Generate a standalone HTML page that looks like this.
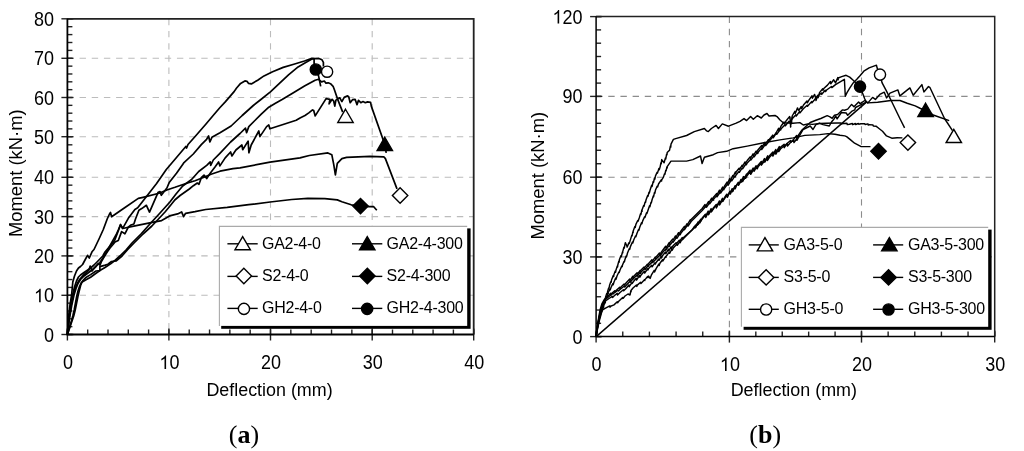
<!DOCTYPE html>
<html><head><meta charset="utf-8"><style>
html,body{margin:0;padding:0;background:#fff;}
svg{filter:grayscale(1);}
svg{display:block;}
.grid{stroke:#b4b4b4;stroke-width:1.1;stroke-dasharray:6.4 5.77;fill:none;}
.tick{stroke:#222;stroke-width:1.4;}
.frame{stroke:#222;fill:none;}
.axis{stroke:#000;fill:none;}
.tl{font-family:"Liberation Sans", sans-serif;font-size:18px;fill:#000;}
.at{font-family:"Liberation Sans", sans-serif;font-size:17.9px;fill:#000;}
.yt{font-family:"Liberation Sans", sans-serif;font-size:18.4px;fill:#000;}
.cap{font-family:"Liberation Serif", serif;font-size:26px;fill:#000;}
.lt{font-family:"Liberation Sans", sans-serif;font-size:16px;letter-spacing:-0.25px;fill:#000;}
.lg{stroke:#000;stroke-width:1.4;}
.mk{stroke:#000;stroke-width:1.4;}
.cl{stroke:#000;stroke-width:1.7;fill:none;stroke-linejoin:round;}
.cr{stroke:#000;stroke-width:1.45;fill:none;stroke-linejoin:round;}
</style></head><body>
<svg width="1024" height="451" viewBox="0 0 1024 451">
<rect width="1024" height="451" fill="#fff"/>
<line x1="168.9" y1="18.8" x2="168.9" y2="334.5" class="grid" style="stroke:#bcbcbc"/>
<line x1="270.5" y1="18.8" x2="270.5" y2="334.5" class="grid" style="stroke:#bcbcbc"/>
<line x1="372.2" y1="18.8" x2="372.2" y2="334.5" class="grid" style="stroke:#bcbcbc"/>
<line x1="67.4" y1="295.3" x2="473.7" y2="295.3" class="grid" style="stroke:#bcbcbc"/>
<line x1="67.4" y1="255.9" x2="473.7" y2="255.9" class="grid" style="stroke:#bcbcbc"/>
<line x1="67.4" y1="216.6" x2="473.7" y2="216.6" class="grid" style="stroke:#bcbcbc"/>
<line x1="67.4" y1="177.3" x2="473.7" y2="177.3" class="grid" style="stroke:#bcbcbc"/>
<line x1="67.4" y1="136.7" x2="473.7" y2="136.7" class="grid" style="stroke:#bcbcbc"/>
<line x1="67.4" y1="97.5" x2="473.7" y2="97.5" class="grid" style="stroke:#bcbcbc"/>
<line x1="67.4" y1="58.3" x2="473.7" y2="58.3" class="grid" style="stroke:#bcbcbc"/>
<line x1="67.4" y1="334.5" x2="67.4" y2="329.5" class="tick"/>
<line x1="87.7" y1="334.5" x2="87.7" y2="329.5" class="tick"/>
<line x1="108" y1="334.5" x2="108" y2="329.5" class="tick"/>
<line x1="128.3" y1="334.5" x2="128.3" y2="329.5" class="tick"/>
<line x1="148.6" y1="334.5" x2="148.6" y2="329.5" class="tick"/>
<line x1="168.9" y1="334.5" x2="168.9" y2="329.5" class="tick"/>
<line x1="189.22" y1="334.5" x2="189.22" y2="329.5" class="tick"/>
<line x1="209.54" y1="334.5" x2="209.54" y2="329.5" class="tick"/>
<line x1="229.86" y1="334.5" x2="229.86" y2="329.5" class="tick"/>
<line x1="250.18" y1="334.5" x2="250.18" y2="329.5" class="tick"/>
<line x1="270.5" y1="334.5" x2="270.5" y2="329.5" class="tick"/>
<line x1="290.84" y1="334.5" x2="290.84" y2="329.5" class="tick"/>
<line x1="311.18" y1="334.5" x2="311.18" y2="329.5" class="tick"/>
<line x1="331.52" y1="334.5" x2="331.52" y2="329.5" class="tick"/>
<line x1="351.86" y1="334.5" x2="351.86" y2="329.5" class="tick"/>
<line x1="372.2" y1="334.5" x2="372.2" y2="329.5" class="tick"/>
<line x1="392.5" y1="334.5" x2="392.5" y2="329.5" class="tick"/>
<line x1="412.8" y1="334.5" x2="412.8" y2="329.5" class="tick"/>
<line x1="433.1" y1="334.5" x2="433.1" y2="329.5" class="tick"/>
<line x1="453.4" y1="334.5" x2="453.4" y2="329.5" class="tick"/>
<line x1="473.7" y1="334.5" x2="473.7" y2="329.5" class="tick"/>
<line x1="67.4" y1="334.5" x2="72.4" y2="334.5" class="tick"/>
<line x1="67.4" y1="326.66" x2="72.4" y2="326.66" class="tick"/>
<line x1="67.4" y1="318.82" x2="72.4" y2="318.82" class="tick"/>
<line x1="67.4" y1="310.98" x2="72.4" y2="310.98" class="tick"/>
<line x1="67.4" y1="303.14" x2="72.4" y2="303.14" class="tick"/>
<line x1="67.4" y1="295.3" x2="72.4" y2="295.3" class="tick"/>
<line x1="67.4" y1="287.42" x2="72.4" y2="287.42" class="tick"/>
<line x1="67.4" y1="279.54" x2="72.4" y2="279.54" class="tick"/>
<line x1="67.4" y1="271.66" x2="72.4" y2="271.66" class="tick"/>
<line x1="67.4" y1="263.78" x2="72.4" y2="263.78" class="tick"/>
<line x1="67.4" y1="255.9" x2="72.4" y2="255.9" class="tick"/>
<line x1="67.4" y1="248.04" x2="72.4" y2="248.04" class="tick"/>
<line x1="67.4" y1="240.18" x2="72.4" y2="240.18" class="tick"/>
<line x1="67.4" y1="232.32" x2="72.4" y2="232.32" class="tick"/>
<line x1="67.4" y1="224.46" x2="72.4" y2="224.46" class="tick"/>
<line x1="67.4" y1="216.6" x2="72.4" y2="216.6" class="tick"/>
<line x1="67.4" y1="208.74" x2="72.4" y2="208.74" class="tick"/>
<line x1="67.4" y1="200.88" x2="72.4" y2="200.88" class="tick"/>
<line x1="67.4" y1="193.02" x2="72.4" y2="193.02" class="tick"/>
<line x1="67.4" y1="185.16" x2="72.4" y2="185.16" class="tick"/>
<line x1="67.4" y1="177.3" x2="72.4" y2="177.3" class="tick"/>
<line x1="67.4" y1="169.18" x2="72.4" y2="169.18" class="tick"/>
<line x1="67.4" y1="161.06" x2="72.4" y2="161.06" class="tick"/>
<line x1="67.4" y1="152.94" x2="72.4" y2="152.94" class="tick"/>
<line x1="67.4" y1="144.82" x2="72.4" y2="144.82" class="tick"/>
<line x1="67.4" y1="136.7" x2="72.4" y2="136.7" class="tick"/>
<line x1="67.4" y1="128.86" x2="72.4" y2="128.86" class="tick"/>
<line x1="67.4" y1="121.02" x2="72.4" y2="121.02" class="tick"/>
<line x1="67.4" y1="113.18" x2="72.4" y2="113.18" class="tick"/>
<line x1="67.4" y1="105.34" x2="72.4" y2="105.34" class="tick"/>
<line x1="67.4" y1="97.5" x2="72.4" y2="97.5" class="tick"/>
<line x1="67.4" y1="89.66" x2="72.4" y2="89.66" class="tick"/>
<line x1="67.4" y1="81.82" x2="72.4" y2="81.82" class="tick"/>
<line x1="67.4" y1="73.98" x2="72.4" y2="73.98" class="tick"/>
<line x1="67.4" y1="66.14" x2="72.4" y2="66.14" class="tick"/>
<line x1="67.4" y1="58.3" x2="72.4" y2="58.3" class="tick"/>
<line x1="67.4" y1="50.4" x2="72.4" y2="50.4" class="tick"/>
<line x1="67.4" y1="42.5" x2="72.4" y2="42.5" class="tick"/>
<line x1="67.4" y1="34.6" x2="72.4" y2="34.6" class="tick"/>
<line x1="67.4" y1="26.7" x2="72.4" y2="26.7" class="tick"/>
<line x1="67.4" y1="18.8" x2="72.4" y2="18.8" class="tick"/>
<line x1="67.4" y1="328.5" x2="67.4" y2="340.5" class="tick"/>
<line x1="168.9" y1="328.5" x2="168.9" y2="340.5" class="tick"/>
<line x1="270.5" y1="328.5" x2="270.5" y2="340.5" class="tick"/>
<line x1="372.2" y1="328.5" x2="372.2" y2="340.5" class="tick"/>
<line x1="473.7" y1="328.5" x2="473.7" y2="340.5" class="tick"/>
<line x1="61.4" y1="334.5" x2="73.4" y2="334.5" class="tick"/>
<line x1="61.4" y1="295.3" x2="73.4" y2="295.3" class="tick"/>
<line x1="61.4" y1="255.9" x2="73.4" y2="255.9" class="tick"/>
<line x1="61.4" y1="216.6" x2="73.4" y2="216.6" class="tick"/>
<line x1="61.4" y1="177.3" x2="73.4" y2="177.3" class="tick"/>
<line x1="61.4" y1="136.7" x2="73.4" y2="136.7" class="tick"/>
<line x1="61.4" y1="97.5" x2="73.4" y2="97.5" class="tick"/>
<line x1="61.4" y1="58.3" x2="73.4" y2="58.3" class="tick"/>
<line x1="61.4" y1="18.8" x2="73.4" y2="18.8" class="tick"/>
<path d="M67.4,18.8 H473.7 V334.5" class="frame" style="stroke-width:1.8"/>
<path d="M67.4,18.8 V334.5 H473.7" class="axis" style="stroke-width:1.8"/>
<text transform="translate(43.99,341.5) scale(1,1.09)" class="tl">0</text>
<path d="M583,0 L763,0 L763,1466 L646,1466 C614,1402 561,1336 487,1268 C413,1200 326,1145 222,1104 L222,930 C279,951 344,984 417,1028 C490,1072 545,1112 583,1147 Z" transform="translate(33.98,302.3) scale(0.008789,-0.009212)" fill="#000"/><text transform="translate(43.99,302.3) scale(1,1.09)" class="tl">0</text>
<text transform="translate(33.98,262.9) scale(1,1.09)" class="tl">2</text><text transform="translate(43.99,262.9) scale(1,1.09)" class="tl">0</text>
<text transform="translate(33.98,223.6) scale(1,1.09)" class="tl">3</text><text transform="translate(43.99,223.6) scale(1,1.09)" class="tl">0</text>
<text transform="translate(33.98,184.3) scale(1,1.09)" class="tl">4</text><text transform="translate(43.99,184.3) scale(1,1.09)" class="tl">0</text>
<text transform="translate(33.98,143.7) scale(1,1.09)" class="tl">5</text><text transform="translate(43.99,143.7) scale(1,1.09)" class="tl">0</text>
<text transform="translate(33.98,104.5) scale(1,1.09)" class="tl">6</text><text transform="translate(43.99,104.5) scale(1,1.09)" class="tl">0</text>
<text transform="translate(33.98,65.3) scale(1,1.09)" class="tl">7</text><text transform="translate(43.99,65.3) scale(1,1.09)" class="tl">0</text>
<text transform="translate(33.98,25.8) scale(1,1.09)" class="tl">8</text><text transform="translate(43.99,25.8) scale(1,1.09)" class="tl">0</text>
<text transform="translate(62.89,369) scale(1,1.09)" class="tl">0</text>
<path d="M583,0 L763,0 L763,1466 L646,1466 C614,1402 561,1336 487,1268 C413,1200 326,1145 222,1104 L222,930 C279,951 344,984 417,1028 C490,1072 545,1112 583,1147 Z" transform="translate(159.39,369) scale(0.008789,-0.009212)" fill="#000"/><text transform="translate(169.4,369) scale(1,1.09)" class="tl">0</text>
<text transform="translate(260.99,369) scale(1,1.09)" class="tl">2</text><text transform="translate(271,369) scale(1,1.09)" class="tl">0</text>
<text transform="translate(362.69,369) scale(1,1.09)" class="tl">3</text><text transform="translate(372.7,369) scale(1,1.09)" class="tl">0</text>
<text transform="translate(464.19,369) scale(1,1.09)" class="tl">4</text><text transform="translate(474.2,369) scale(1,1.09)" class="tl">0</text>
<text transform="translate(269.5,396) scale(1,1.04)" class="at" text-anchor="middle">Deflection (mm)</text>
<text transform="translate(22.2,173.2) rotate(-90) scale(1,1.04)" class="yt" text-anchor="middle">Moment (kN&#183;m)</text>
<text x="244" y="443" class="cap" text-anchor="middle">(<tspan font-weight="bold">a</tspan>)</text>
<polyline points="67.4,334.5 68.4,318 70,305 71.6,295 72.8,282 74.5,276 76.5,271 78.5,268 80.5,266.5 82.6,264.5 85,260 87.5,255.3 89.3,258 92,251.8 94,249.5 99,239 103.3,229.5 107.2,219 109.5,214 110.5,212.5 111.6,216.8 125,207.5 138.3,198.4 143,197.3 159,193.3 167.5,189.7 175,187.3 186,183.5 195,180.7 204,177.3 211,174.2 220,171.2 233,168.6 240,167.9 270,162.1 300,157.9 309.3,155.5 327.9,152.9 331.8,154.7 333.8,164.8 335.4,174.9 337.3,163.3 341.9,158.6 346.6,157.4 369.9,156.3 383.8,156.8 385.4,158.6 397,188.9" class="cl"/>
<polyline points="67.4,334.5 69.5,318 71.8,305 74,295 76,288.5 78,283.5 80.5,279.5 84,276 88,273 92,270 96,266.5 99.9,262.5 103,258 107,251 111.5,243 116,235 118.5,229.5 120.5,224.5 122.7,228.5 135,225.9 151,222.6 161.6,220.6 169.6,215.9 177.6,213.9 181.6,211.9 183.6,216.6 185.6,213.3 195,211.7 205.7,209.5 227.2,207.4 248.7,204.7 270.2,202 291.7,199.5 307.8,198.3 324.8,198.6 337.3,199.9 341.9,201.7 351.2,204.8 360.5,206.1 369.1,206.7 373.7,206.7 376.8,210.3" class="cl"/>
<polyline points="67.4,334.5 68.9,318 70.7,305 72.6,295 74.5,287 76.5,281 78.5,277 80.5,275 84,272.5 87,270.5 90.6,268 94,265 97,262 99.9,259 102.8,256 105,252 107.9,248.5 111,245 114.6,240.5 117.5,233 120.5,225 122.7,228.3 128.3,218.3 134.9,209.4 137.7,207.8 145.7,197.4 156.6,183.5 166.3,169.5 176.5,157.5 185.8,146.5 186.6,148 188,144.5 196,135.5 206,124 214,114.5 220,107.5 225.5,101.6 234.3,91.4 236.4,88.2 240.6,83.4 244.9,80.9 247,81.3 248.6,83.4 251.3,83.9 257.7,80.2 264,75.9 272.6,71.7 283.2,67.4 293.8,64.2 304.5,61 311.9,58.4 314.1,58.6 314.1,63.3 315.8,69.5 318.5,75.7 319.8,81.9 320.7,86.3" class="cl"/>
<polyline points="67.4,334.5 69.2,318 71.2,305 73.3,295 75.3,288 77.5,283 80,279 83,275.5 86.5,272.5 89,270 90.2,266 92,271 96,266 98.2,263.5 100,265.1 101.7,261 104,257 107.2,252 110,248 113,244.5 115,242 118.3,240.5 121.6,231.6 124.9,233.8 128.3,227.2 131,225 133.9,224 135.5,219 138.9,210.2 141.7,208.6 146.4,205.3 149.5,212.1 158.2,192.2 160,191.6 161.3,195.3 166.9,188 169.4,182.2 176.5,173.3 182.7,164.4 184,162.6 193.3,154 201.3,144.6 206.6,139.3 208.6,136 209.9,142 211.9,137.3 220,132.7 231.1,126 242.2,115.5 253.3,105.5 260.9,99.5 270.4,91.9 278.9,83.9 288.5,74.9 298.1,66.9 306.6,62.1 311.9,58.9 318.9,58.4 322,59.8 323.4,62.4 323.4,66.5" class="cl"/>
<polyline points="67.4,334.5 69.6,327 71.4,321 72.8,316 74.2,310 75.5,303 76.8,296 78,291 79.5,286.5 81.3,282.6 86,279.8 90.6,277.2 95,274 99.9,270.6 105,267.5 110.6,263.9 115.5,260 119.9,256 126,250 132,243 141,234 149.9,224 160,213 169.9,202 176,194 182.7,186 191.6,179.5 198.7,171.5 206.7,165.3 210.2,161.8 210.7,165.3 213.3,160 219.9,153.3 230.6,142 240,133.5 245.5,128.2 246.6,132.7 248.8,126.6 254.4,121 261,114.4 268.8,107.2 275,103.5 282.1,99.5 293.8,92.4 304.5,86 315.1,80.2 318.5,79.3 321.6,81.9 324.3,81 326,83.2 328.2,82.8 330.5,83.7 333.1,86.3 334.5,90 337.4,98.6 342.7,112.1" class="cl"/>
<polyline points="67.4,334.5 70,327 72,321 73.7,316 75.2,310 76.6,303 78,296 79.2,291 80.6,285.5 82.5,281 85.5,277.8 90.6,274.6 96,271 99.9,270.6 99.9,266.6 105.3,265.1 107.9,264.2 111.5,261.5 116.3,260.9 122,256 127.3,249.9 134,243 143,234 151.9,226 158,219.5 165,212 170,206 174.8,200 180.1,195.5 189.3,189 193.4,185.7 197.3,183 199,184.3 201.3,177.7 204,175.1 206.7,178.6 210.2,173.3 215,167.1 218.6,161.9 219.9,165.9 225.2,157.9 230.6,152 231.9,155.9 235.9,150 241.9,145 242.7,149.7 248.1,141.1 248.9,152.8 251.2,145 258.8,131 259.9,136.6 266.6,126.6 268.8,124.9 269.9,128.8 280,125.5 296.2,120.2 300,117.9 305,115.5 308.8,112.9 312.5,109.9 313.7,110.6 315.2,115.9 326.1,98.6 327.6,98.9 329.9,99.3 329.1,103.8 332.1,99.3 333.6,100.8 334.8,106.1 335.9,100.1 338.2,98.6 339.7,97.8 341.9,101.6 344.2,97.4 347.6,95.9 348.7,96.7 350.2,102.7 352.5,99.7 355.1,99.3 357,104.6 358.5,100.4 360.8,102.7 363,101.6 365.3,102.7 367.5,101.9 370.6,102.3 371.3,106.1 384.8,144.5 386.2,152.9" class="cl"/>
<path d="M345.5,109.24 L353.2,122.44 L337.8,122.44 Z" fill="#fff" class="mk"/>
<path d="M384.8,137.24 L392.5,150.44 L377.1,150.44 Z" fill="#000" class="mk"/>
<path d="M400.1,187.8 L407.8,195.5 L400.1,203.2 L392.4,195.5 Z" fill="#fff" class="mk"/>
<path d="M360.5,198.4 L368.2,206.1 L360.5,213.8 L352.8,206.1 Z" fill="#000" class="mk"/>
<circle cx="315.8" cy="69.5" r="5.6" fill="#000" class="mk"/>
<circle cx="327.1" cy="71.7" r="5.6" fill="#fff" class="mk"/>
<rect x="221.2" y="228.4" width="249.4" height="100.4" fill="#000"/>
<rect x="219.4" y="226.4" width="247.8" height="99.5" fill="#fff"/>
<path d="M219.4,325.9 V226.4 H467.2" fill="none" stroke="#aaa" stroke-width="1.1"/>
<line x1="227.4" y1="243.8" x2="257.7" y2="243.8" class="lg"/>
<path d="M242.65,236.54 L250.35,249.74 L234.95,249.74 Z" fill="#fff" class="mk"/>
<text transform="translate(262,248.7) scale(1,1.04)" class="lt" text-anchor="start">GA2-4-0</text>
<line x1="227.4" y1="276.4" x2="257.7" y2="276.4" class="lg"/>
<path d="M243.85,268.3 L251.55,276 L243.85,283.7 L236.15,276 Z" fill="#fff" class="mk"/>
<text transform="translate(262,281.3) scale(1,1.04)" class="lt" text-anchor="start">S2-4-0</text>
<line x1="227.4" y1="308.4" x2="257.7" y2="308.4" class="lg"/>
<circle cx="243.95" cy="308.9" r="5.6" fill="#fff" class="mk"/>
<text transform="translate(262,313.3) scale(1,1.04)" class="lt" text-anchor="start">GH2-4-0</text>
<line x1="352" y1="243.8" x2="382.3" y2="243.8" class="lg"/>
<path d="M367.25,236.54 L374.95,249.74 L359.55,249.74 Z" fill="#000" class="mk"/>
<text transform="translate(386.6,248.7) scale(1,1.04)" class="lt" text-anchor="start">GA2-4-300</text>
<line x1="352" y1="276.4" x2="382.3" y2="276.4" class="lg"/>
<path d="M367.35,268.3 L375.05,276 L367.35,283.7 L359.65,276 Z" fill="#000" class="mk"/>
<text transform="translate(386.6,281.3) scale(1,1.04)" class="lt" text-anchor="start">S2-4-300</text>
<line x1="352" y1="308.4" x2="382.3" y2="308.4" class="lg"/>
<circle cx="367.15" cy="308.9" r="5.6" fill="#000" class="mk"/>
<text transform="translate(386.6,313.3) scale(1,1.04)" class="lt" text-anchor="start">GH2-4-300</text>
<line x1="729.4" y1="16.6" x2="729.4" y2="336.6" class="grid" style="stroke:#8c8c8c"/>
<line x1="861.5" y1="16.6" x2="861.5" y2="336.6" class="grid" style="stroke:#8c8c8c"/>
<line x1="596.1" y1="256.9" x2="994.7" y2="256.9" class="grid" style="stroke:#8c8c8c"/>
<line x1="596.1" y1="177.2" x2="994.7" y2="177.2" class="grid" style="stroke:#8c8c8c"/>
<line x1="596.1" y1="96.4" x2="994.7" y2="96.4" class="grid" style="stroke:#8c8c8c"/>
<line x1="596.1" y1="336.6" x2="596.1" y2="331.6" class="tick"/>
<line x1="622.76" y1="336.6" x2="622.76" y2="331.6" class="tick"/>
<line x1="649.42" y1="336.6" x2="649.42" y2="331.6" class="tick"/>
<line x1="676.08" y1="336.6" x2="676.08" y2="331.6" class="tick"/>
<line x1="702.74" y1="336.6" x2="702.74" y2="331.6" class="tick"/>
<line x1="729.4" y1="336.6" x2="729.4" y2="331.6" class="tick"/>
<line x1="755.82" y1="336.6" x2="755.82" y2="331.6" class="tick"/>
<line x1="782.24" y1="336.6" x2="782.24" y2="331.6" class="tick"/>
<line x1="808.66" y1="336.6" x2="808.66" y2="331.6" class="tick"/>
<line x1="835.08" y1="336.6" x2="835.08" y2="331.6" class="tick"/>
<line x1="861.5" y1="336.6" x2="861.5" y2="331.6" class="tick"/>
<line x1="888.14" y1="336.6" x2="888.14" y2="331.6" class="tick"/>
<line x1="914.78" y1="336.6" x2="914.78" y2="331.6" class="tick"/>
<line x1="941.42" y1="336.6" x2="941.42" y2="331.6" class="tick"/>
<line x1="968.06" y1="336.6" x2="968.06" y2="331.6" class="tick"/>
<line x1="994.7" y1="336.6" x2="994.7" y2="331.6" class="tick"/>
<line x1="596.1" y1="336.6" x2="601.1" y2="336.6" class="tick"/>
<line x1="596.1" y1="323.32" x2="601.1" y2="323.32" class="tick"/>
<line x1="596.1" y1="310.03" x2="601.1" y2="310.03" class="tick"/>
<line x1="596.1" y1="296.75" x2="601.1" y2="296.75" class="tick"/>
<line x1="596.1" y1="283.47" x2="601.1" y2="283.47" class="tick"/>
<line x1="596.1" y1="270.18" x2="601.1" y2="270.18" class="tick"/>
<line x1="596.1" y1="256.9" x2="601.1" y2="256.9" class="tick"/>
<line x1="596.1" y1="243.62" x2="601.1" y2="243.62" class="tick"/>
<line x1="596.1" y1="230.33" x2="601.1" y2="230.33" class="tick"/>
<line x1="596.1" y1="217.05" x2="601.1" y2="217.05" class="tick"/>
<line x1="596.1" y1="203.77" x2="601.1" y2="203.77" class="tick"/>
<line x1="596.1" y1="190.48" x2="601.1" y2="190.48" class="tick"/>
<line x1="596.1" y1="177.2" x2="601.1" y2="177.2" class="tick"/>
<line x1="596.1" y1="163.73" x2="601.1" y2="163.73" class="tick"/>
<line x1="596.1" y1="150.27" x2="601.1" y2="150.27" class="tick"/>
<line x1="596.1" y1="136.8" x2="601.1" y2="136.8" class="tick"/>
<line x1="596.1" y1="123.33" x2="601.1" y2="123.33" class="tick"/>
<line x1="596.1" y1="109.87" x2="601.1" y2="109.87" class="tick"/>
<line x1="596.1" y1="96.4" x2="601.1" y2="96.4" class="tick"/>
<line x1="596.1" y1="83.1" x2="601.1" y2="83.1" class="tick"/>
<line x1="596.1" y1="69.8" x2="601.1" y2="69.8" class="tick"/>
<line x1="596.1" y1="56.5" x2="601.1" y2="56.5" class="tick"/>
<line x1="596.1" y1="43.2" x2="601.1" y2="43.2" class="tick"/>
<line x1="596.1" y1="29.9" x2="601.1" y2="29.9" class="tick"/>
<line x1="596.1" y1="16.6" x2="601.1" y2="16.6" class="tick"/>
<line x1="596.1" y1="330.6" x2="596.1" y2="342.6" class="tick"/>
<line x1="729.4" y1="330.6" x2="729.4" y2="342.6" class="tick"/>
<line x1="861.5" y1="330.6" x2="861.5" y2="342.6" class="tick"/>
<line x1="994.7" y1="330.6" x2="994.7" y2="342.6" class="tick"/>
<line x1="590.1" y1="336.6" x2="602.1" y2="336.6" class="tick"/>
<line x1="590.1" y1="256.9" x2="602.1" y2="256.9" class="tick"/>
<line x1="590.1" y1="177.2" x2="602.1" y2="177.2" class="tick"/>
<line x1="590.1" y1="96.4" x2="602.1" y2="96.4" class="tick"/>
<line x1="590.1" y1="16.6" x2="602.1" y2="16.6" class="tick"/>
<path d="M596.1,16.6 H994.7 V336.6" class="frame" style="stroke-width:1.5"/>
<path d="M596.1,16.6 V336.6 H994.7" class="axis" style="stroke-width:1.5"/>
<text transform="translate(572.49,343.6) scale(1,1.09)" class="tl">0</text>
<text transform="translate(562.48,263.9) scale(1,1.09)" class="tl">3</text><text transform="translate(572.49,263.9) scale(1,1.09)" class="tl">0</text>
<text transform="translate(562.48,184.2) scale(1,1.09)" class="tl">6</text><text transform="translate(572.49,184.2) scale(1,1.09)" class="tl">0</text>
<text transform="translate(562.48,103.4) scale(1,1.09)" class="tl">9</text><text transform="translate(572.49,103.4) scale(1,1.09)" class="tl">0</text>
<path d="M583,0 L763,0 L763,1466 L646,1466 C614,1402 561,1336 487,1268 C413,1200 326,1145 222,1104 L222,930 C279,951 344,984 417,1028 C490,1072 545,1112 583,1147 Z" transform="translate(552.47,23.6) scale(0.008789,-0.009212)" fill="#000"/><text transform="translate(562.48,23.6) scale(1,1.09)" class="tl">2</text><text transform="translate(572.49,23.6) scale(1,1.09)" class="tl">0</text>
<text transform="translate(591.59,371) scale(1,1.09)" class="tl">0</text>
<path d="M583,0 L763,0 L763,1466 L646,1466 C614,1402 561,1336 487,1268 C413,1200 326,1145 222,1104 L222,930 C279,951 344,984 417,1028 C490,1072 545,1112 583,1147 Z" transform="translate(719.89,371) scale(0.008789,-0.009212)" fill="#000"/><text transform="translate(729.9,371) scale(1,1.09)" class="tl">0</text>
<text transform="translate(851.99,371) scale(1,1.09)" class="tl">2</text><text transform="translate(862,371) scale(1,1.09)" class="tl">0</text>
<text transform="translate(985.19,371) scale(1,1.09)" class="tl">3</text><text transform="translate(995.2,371) scale(1,1.09)" class="tl">0</text>
<text transform="translate(793.8,396) scale(1,1.04)" class="at" text-anchor="middle">Deflection (mm)</text>
<text transform="translate(543.7,175.7) rotate(-90) scale(1,1.04)" class="yt" text-anchor="middle">Moment (kN&#183;m)</text>
<text x="765.2" y="443" class="cap" text-anchor="middle">(<tspan font-weight="bold">b</tspan>)</text>
<polyline points="596.1,336.6 597,330 598.2,322 600,315 601.14,310.31 601.49,310.86 601.8,308 602.83,303.94 603.18,305.19 603.6,302 605.3,298 606.75,293.46 607.1,294.62 607.5,292 608.58,288.08 608.93,288.87 609.5,285.5 610.78,281.62 611.13,282.35 611.5,280 613.35,275.39 613.7,276.56 613.8,275 615.28,271.04 615.63,272.25 616,270 617.25,266.11 617.6,266.97 617.8,265 618.8,261.18 619.15,262.13 619.3,260 620.87,255.63 621.22,256.84 622.48,251.96 622.83,252.8 622.6,252.1 623.91,247.25 624.26,248.14 625.21,243.07 625.56,243.63 625.4,242.7 626.7,245.46 627.05,246.67 627.1,247.1 628.88,242.85 629.23,243.6 630.4,239.9 631.75,235.34 632.1,235.95 632.83,231.99 633.18,232.56 633.2,231.1 634.85,226.54 635.2,227.48 635.9,224.4 637.73,220.51 638.08,221.18 639.3,217.8 640.55,213.83 640.9,214.54 641.79,210.05 642.14,211.19 642,210 643.67,205.44 644.02,206.23 645.13,201.89 645.48,202.48 646,200 647.65,195.53 648,196.41 648.99,192.25 649.34,193.14 650.1,190 651.68,185.28 652.03,186.49 653.21,181.5 653.56,182.25 654.44,178.06 654.79,179.25 655.5,175.9 657.12,172.25 657.47,173.15 658.91,168.52 659.26,169.77 660.2,166.6 660.93,162.63 661.28,163.78 661.7,159.6 664.1,162.7 665.37,158.07 665.72,159.04 666.61,154.15 666.96,154.87 667.2,152.6 669.5,150.3 670.39,146.1 670.74,147.11 671,144.1 673.4,139.4 675.7,138.6 686.6,135.5 694.3,131.6 704.4,128.5 706.7,130.9 708.3,131.6 711.4,128.5 716.1,125.4 718.4,128.5 722.3,123.9 728.5,126.2 736.2,123.1 740,121.3 744,118.6 746.6,120.6 750.6,116.6 753.3,119.3 757.3,115.7 761.3,118 764,115 767,113.5 769,116 775,115.5 777,116.6 780,120 783.3,122.7 792.9,123.3 799.9,122.6 803.3,125 807.9,123.9 812.1,124.4 820,123.5 826,123.3 837.7,123 841,122.87 841.35,123.66 843.9,123.5 846.93,123.33 847.28,124.46 849.3,124.2 852.33,123.54 852.68,124.65 855.35,123.47 855.7,124.51 858.39,123.52 858.74,124.26 860.9,123.8 864.73,123.77 865.08,124.54 867.92,123.85 868.27,125.06 869.5,124.6 872.98,124.95 873.33,125.96 876,126.2 879,128.5 882.5,131.3 886.5,135.9 891.8,138.2 897.1,137.7 902.4,137.9" class="cr"/>
<polyline points="596.1,336.6 597.5,329 599.5,320 602,311 603.1,306.88 603.45,307.77 604.22,303.16 604.57,304.02 605,301 606.47,296.71 606.82,297.44 607.93,292.91 608.28,293.45 608,293 609.82,289.34 610.17,289.98 611,287.5 612.81,283.63 613.16,284.74 614,282 615.66,278.1 616.01,279.28 617,276 618.88,271.96 619.23,272.52 620,270 621.86,265.91 622.21,266.66 622.5,265 624.08,261.21 624.43,261.94 624.8,260 626.17,256.02 626.52,256.86 627.5,253 629.37,248.49 629.72,249.24 630.4,246.6 632.44,241.94 632.79,243.08 633.7,240 635.48,236.03 635.83,236.74 637,233.3 638.53,229.42 638.88,230.3 639.8,227 641.62,222.64 641.97,223.7 642.6,221.1 644.56,216.7 644.91,217.59 646.56,212.67 646.91,213.55 648.1,210 649.53,205.83 649.88,206.82 650.99,202.32 651.34,202.88 652,200 653.22,196.11 653.57,196.94 654.48,192.44 654.83,193.36 655.5,190 657.24,186.14 657.59,186.91 658.5,184 661.25,179.83 661.6,180.94 661.7,179.8 663.3,177.4 664.55,173.64 664.9,174.25 665.74,170.33 666.09,170.96 666.9,166.94 667.25,167.93 667.2,166.6 671,161.1 686.6,161.1 692.8,159.6 700.5,156 702.1,163.5 704.4,157.3 713.3,154.7 717.6,152.6 726.6,151.3 733.1,148.7 747.2,146.1 763.8,142.8 779.9,139.9 793.2,137.9 804.9,135.4 819.8,134.6 827.9,133.6 835,134.3 840,135.3 844.8,135.9 846.6,136.6 850.6,139.9 854.6,143.2 861.2,146.6 870.5,146.6" class="cr"/>
<polyline points="596.2,336.6 866.4,102.1" class="cr"/>
<polyline points="596.1,336.6 597.3,327 598.6,318 600.2,309.5 602,303.5 604,300 607,297 610.66,293.38 611.01,295.12 611,294 614.7,290.72 615.05,292.11 616,290.5 619.7,287.19 620.05,288.63 621,287 624.09,283.98 624.44,285.08 626,283 629.72,279.03 630.07,280.53 632.65,276.34 633,278.14 633.5,276.5 637.08,272.73 637.43,274.15 640.15,270.42 640.5,271.21 641.1,270 644.05,266.95 644.4,267.93 647.19,264.32 647.54,265.13 648.6,263.5 651.94,259.78 652.29,261.43 655.36,256.92 655.71,258.36 656.1,257 659.46,253.06 659.81,254.32 662.2,251 665.67,246.26 666.02,248.07 669,242.73 669.35,244.25 669.9,242.5 672.77,238.98 673.12,240.07 675.49,235.92 675.84,237.49 678.53,232.73 678.88,234.39 681,231 684.38,226.32 684.73,227.98 686.9,223.78 687.25,224.78 690.24,219.85 690.59,221.12 691.1,219.5 702.2,208.5 705.05,204.53 705.4,206.83 708.5,201.54 708.85,202.99 711.69,198.23 712.04,199.96 713.3,197.5 716.76,193.43 717.11,194.65 719.49,190.17 719.84,192.45 722.61,187.1 722.96,189.28 724.3,186.5 727.09,182.01 727.44,184.13 729.7,178.64 730.05,181.08 732.89,175.39 733.24,176.51 735.32,172.03 735.67,173.89 736.1,172 739.11,168.18 739.46,169.57 742.17,165.15 742.52,166.28 745.03,161.89 745.38,163.6 747.2,160.5 750.14,156.88 750.49,158.29 753.07,153.81 753.42,155.56 756.06,151.16 756.41,152.27 758.3,149.5 761.69,145.42 762.04,147.42 764.7,142.43 765.05,144.93 768.39,139.7 768.74,140.95 769.3,139.5 772.74,135.11 773.09,137.21 776,133 778.59,128.31 778.94,130.59 781.1,126 784.06,122.01 784.41,123.94 786,121 789.51,116.58 789.86,118.39 790,117 790.19,120.15 790.54,121.58 790.44,124.92 790.79,126.6 790.5,127 791.2,121.44 791.55,123.53 791.92,117 792.27,118.62 792.2,116 794.87,111.26 795.22,113.46 797.55,107.89 797.9,109.53 797.7,108.5 798.8,110.5 801.32,106.5 801.67,108.59 803.5,105 806.96,101.1 807.31,102.75 808.9,100.2 812.06,95.74 812.41,98.24 814.6,94.4 815.6,97.68 815.95,100 816,100.6 817.81,95.23 818.16,97.69 819.5,92.6 822.68,88.76 823.03,90.23 824,88.2 827.5,85.1 830.41,81.51 830.76,83.71 833.7,79.8 835.5,82.9 837.83,77.55 838.18,79.8 838.2,78 841.7,76.6 846.1,75.3 849.7,77.1 853.2,80.2 856.8,83.7 860,86.6 864.8,99 866.4,102.1" class="cr"/>
<polyline points="596.1,336.6 597.5,326 599,317.5 601,309 603,303 605.5,299.5 609,296.5 613.3,293.13 613.65,293.85 614,293 618.16,290.17 618.51,290.98 620,289.5 624.4,286.03 624.75,287.11 626,285.5 629.83,281.57 630.18,282.28 633.42,278.21 633.77,278.94 633.5,278.5 636.8,275.05 637.15,276.31 640.11,272.27 640.46,273.42 641.1,272 644.77,268.18 645.12,269.46 648,265.69 648.35,266.34 648.6,265.5 652.39,261.88 652.74,262.55 656.1,259 660.14,254.68 660.49,255.37 662.2,253 665.29,249.37 665.64,250.22 668.88,245.69 669.23,246.42 669.9,245 672.84,241.46 673.19,242.19 676.56,237.35 676.91,238.27 679.87,233.69 680.22,234.76 681,233 684.19,229.06 684.54,229.69 687.71,224.67 688.06,226.05 691.1,221.5 702.2,210.5 706.24,205.82 706.59,207.18 709.32,203.11 709.67,203.78 713.23,198.98 713.58,200.17 713.3,199.5 716.63,195.63 716.98,196.71 720.28,191.99 720.63,193.05 723.45,188.87 723.8,189.82 724.3,188.5 727.81,183.79 728.16,185.18 731.54,179.69 731.89,180.73 734.78,176.1 735.13,176.92 736.1,175 739.01,171.36 739.36,172.34 742.22,167.93 742.57,168.83 746.02,163.77 746.37,164.79 747.2,163 750.47,159.45 750.82,160.07 753.84,156.07 754.19,156.78 757.4,152.19 757.75,153.59 758.3,152 761.5,148.14 761.85,149.46 765.35,144.36 765.7,145.55 769.3,141 773.05,136.51 773.4,137.74 776.37,132.99 776.72,134.38 780.33,129.23 780.68,129.96 781.1,128.8 785.05,124.75 785.4,125.72 788.8,121.36 789.15,122.36 792.2,118.8 795.92,114.82 796.27,116.09 799.47,111.6 799.82,112.91 803.3,108.8 807.16,105.19 807.51,106.24 811.56,101.61 811.91,102.79 814.3,100 817.36,96.15 817.71,97.01 817.7,96.2 821.39,92.97 821.74,94.29 825.21,90.3 825.56,91.63 826.6,90 831.46,86.47 831.81,87.63 835.5,84.6 844.4,79.3 845.3,96.2 847,92.6 849.7,88.2 853.2,82.9 856.8,79.3 860,75.8 863.8,71.2 869.1,67.9 874.5,65.9 876.5,65.3 877.1,67.9 880,74.6 882,82.6 886.5,91.1 892,102.2 900,118.8 904.6,127.9" class="cr"/>
<polyline points="596.1,336.6 597.5,327 599,319 601,311 603,305 604.97,301.05 605.32,302.66 605.5,301 609,298.5 612.24,296.33 612.59,297.43 614,296 617.17,293.32 617.52,294.98 620,292.5 623.36,289.72 623.71,290.8 626,288.5 628.86,284.94 629.21,286.72 631.88,282.58 632.23,283.44 633.5,281.5 636.22,278.27 636.57,280.08 639.54,275.46 639.89,277.21 641.1,275 644.34,271.24 644.69,273.14 647.63,268.77 647.98,269.9 648.6,268.5 651.71,265.17 652.06,266.85 654.89,262.8 655.24,264.12 656.1,262.5 658.78,259.05 659.13,260.24 661.2,256.18 661.55,257.94 662.2,256 665.53,252.04 665.88,253.66 668.48,249.22 668.83,250.9 671.07,246.81 671.42,248.41 673.3,245.5 676.12,242.71 676.47,243.78 679.27,240.17 679.62,241.29 682.35,237.5 682.7,239.02 684.3,236.7 693.2,229 695.53,225.01 695.88,227.29 697.97,221.98 698.32,224.36 700.6,219.24 700.95,220.68 702.2,218 705.47,214.16 705.82,215.94 708.21,211.05 708.56,214.12 711.15,208.54 711.5,211.33 713.3,208 716.38,204.4 716.73,205.99 719.46,200.97 719.81,203.82 722.44,198.38 722.79,201 724.3,198 726.77,194.23 727.12,196.88 729.69,191.73 730.04,193.59 732.13,188.82 732.48,191.66 734.95,186.16 735.3,188.74 735.4,187 738.26,182.38 738.61,185.32 740.86,179.61 741.21,182.34 743.51,176.58 743.86,179.55 746.5,174.02 746.85,175.51 747.2,174 750.04,170.19 750.39,173.2 753.09,168.01 753.44,170.44 756.01,165.75 756.36,167.96 758.3,165 761.26,161.41 761.61,163.76 764.43,158.53 764.78,161.44 767.7,155.83 768.05,158.79 769.3,156 772.9,151.9 773.25,154.4 775.71,149.5 776.06,152.33 779.29,146.63 779.64,149.54 780.4,147.2 784.11,144.27 784.46,145.96 787,143.5 790.54,140.54 790.89,142.36 793.2,139.9 796.61,135.54 796.96,138.61 797.9,136 802,130 805.8,126.5 810.2,122.5 815.9,120.3 820.8,118.5 827.2,115.7 830,116.8 832.2,118.3 834.5,115.3 837.6,114.5 842.3,109.9 844.6,110.2 847.7,109.1 851.6,104.4 854,106.8 858.6,102.1 860.2,103.6 864.8,100.5 867.9,102.9 872.6,97.4 875.4,99.4 879.8,94.4 884.3,92.2 886.6,97.9 890,93.2 897.9,89.9 899.9,95.9 909.9,87.9 913.2,95.2 921.9,84.6 923.9,91.9 928.5,86.6 929.8,87.3 944.5,118.5 952.5,130.6" class="cr"/>
<polyline points="596.1,336.6 597.5,328 599,320 601,313 603,309.5 606,307.9 609.75,305.89 610.1,307.29 610,306.5 614,304.9 617.27,301.8 617.62,302.76 619,300.9 622.65,297.41 623,298.42 625,296 628,294 630,295 630.86,290.64 631.21,291.58 631,290.5 633,288 636.46,284.92 636.81,286.41 637.3,285.1 640.61,282.18 640.96,283.43 644.49,279.68 644.84,280.55 644.8,279.9 647.62,276.56 647.97,277.6 648.6,276.1 650.1,278.4 651.6,274.6 654.22,270.27 654.57,271.94 656.1,268.6 658.81,264.05 659.16,265.6 659.9,263.3 662.55,259.7 662.9,260.98 665.68,256.41 666.03,257.3 666,256.5 669.26,252.1 669.61,253.31 671.92,249.02 672.27,250.18 673.3,248 676.93,244.1 677.28,245.3 679.86,241.28 680.21,242.79 681,241 692,230 694.5,226.55 694.85,228.05 697.14,223.66 697.49,225.25 699.51,220.89 699.86,222.92 702.2,219 705.44,214.75 705.79,217.41 708.16,212.5 708.51,214.76 710.94,210.32 711.29,211.94 713.3,209 716.01,205.06 716.36,208.02 719.26,202.21 719.61,204.95 722.48,199.82 722.83,201.48 724.3,199 727.09,194.62 727.44,197.23 730.07,191.21 730.42,194.08 732.42,188.86 732.77,191.25 735.25,185.83 735.6,188.04 736.1,186 738.98,182.53 739.33,184.01 742.27,178.74 742.62,181.59 745.21,176.45 745.56,178.3 747.2,175.5 750.37,171.49 750.72,174.36 753.81,169.04 754.16,171.25 756.83,166.5 757.18,168.88 758.3,166.5 761.08,163.3 761.43,165.15 764.47,160.76 764.82,162.15 767.14,158.05 767.49,160.48 769.3,157.5 772.51,153.97 772.86,156.12 775.53,151.19 775.88,154.26 778.42,149.49 778.77,151.54 780.4,149 783.93,145.89 784.28,147.7 787.17,143.45 787.52,146.08 790,143 793.61,139.67 793.96,142.58 796.74,138.79 797.09,140.21 797.7,139 803.1,129.5 810.2,126 813,129.5 815.9,124.6 819.4,123.1 823,124.6 829.3,126 831.5,122 833.6,119.6 835.7,116.1 837.1,118.9 841.4,112.5 846.2,113 847.7,115.3 851.6,111.4 854.7,109.9 855.5,107.5 860.2,105.2 866.4,102.1 867.9,102.9 877.6,102.2 890.9,100.5 900,100.5 907.2,103.2 915.2,105.9 920.5,108.5 925.6,110.5 933.9,115.3 949.2,120.6" class="cr"/>
<path d="M953.8,129.34 L961.5,142.54 L946.1,142.54 Z" fill="#fff" class="mk"/>
<path d="M925.6,103.24 L933.3,116.44 L917.9,116.44 Z" fill="#000" class="mk"/>
<path d="M907.9,134.9 L915.6,142.6 L907.9,150.3 L900.2,142.6 Z" fill="#fff" class="mk"/>
<path d="M878.5,143.5 L886.2,151.2 L878.5,158.9 L870.8,151.2 Z" fill="#000" class="mk"/>
<circle cx="880" cy="74.6" r="5.6" fill="#fff" class="mk"/>
<circle cx="860" cy="86.6" r="5.6" fill="#000" class="mk"/>
<rect x="743.6" y="229.6" width="248" height="100.2" fill="#000"/>
<rect x="741.4" y="227.4" width="246.8" height="99.4" fill="#fff"/>
<path d="M741.4,326.8 V227.4 H988.2" fill="none" stroke="#aaa" stroke-width="1.1"/>
<line x1="748.7" y1="244.9" x2="778.8" y2="244.9" class="lg"/>
<path d="M764.95,237.64 L772.65,250.84 L757.25,250.84 Z" fill="#fff" class="mk"/>
<text transform="translate(783.6,249.8) scale(1,1.04)" class="lt" text-anchor="start">GA3-5-0</text>
<line x1="748.7" y1="277.4" x2="778.8" y2="277.4" class="lg"/>
<path d="M766.15,269.7 L773.85,277.4 L766.15,285.1 L758.45,277.4 Z" fill="#fff" class="mk"/>
<text transform="translate(783.6,282.3) scale(1,1.04)" class="lt" text-anchor="start">S3-5-0</text>
<line x1="748.7" y1="309.3" x2="778.8" y2="309.3" class="lg"/>
<circle cx="766.15" cy="309.5" r="5.6" fill="#fff" class="mk"/>
<text transform="translate(783.6,314.2) scale(1,1.04)" class="lt" text-anchor="start">GH3-5-0</text>
<line x1="873.1" y1="244.9" x2="903.2" y2="244.9" class="lg"/>
<path d="M889.35,237.64 L897.05,250.84 L881.65,250.84 Z" fill="#000" class="mk"/>
<text transform="translate(908,249.8) scale(1,1.04)" class="lt" text-anchor="start">GA3-5-300</text>
<line x1="873.1" y1="277.4" x2="903.2" y2="277.4" class="lg"/>
<path d="M888.55,269.7 L896.25,277.4 L888.55,285.1 L880.85,277.4 Z" fill="#000" class="mk"/>
<text transform="translate(908,282.3) scale(1,1.04)" class="lt" text-anchor="start">S3-5-300</text>
<line x1="873.1" y1="309.3" x2="903.2" y2="309.3" class="lg"/>
<circle cx="888.55" cy="309.5" r="5.6" fill="#000" class="mk"/>
<text transform="translate(908,314.2) scale(1,1.04)" class="lt" text-anchor="start">GH3-5-300</text>
</svg>
</body></html>
